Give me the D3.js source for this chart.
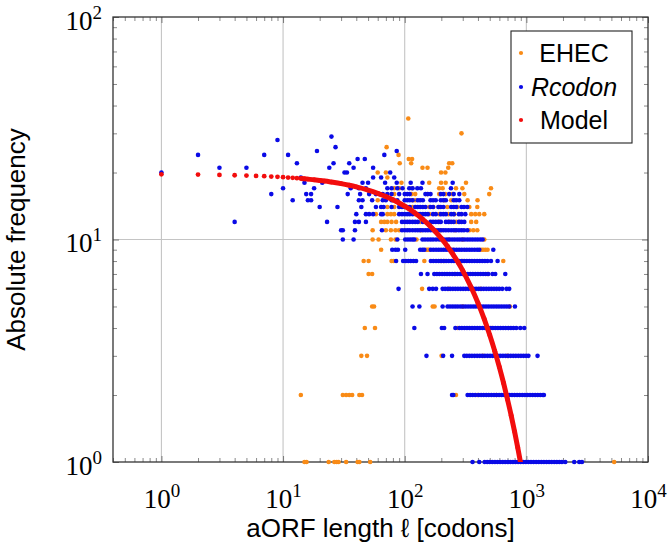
<!DOCTYPE html>
<html><head><meta charset="utf-8">
<script src="https://cdn.jsdelivr.net/npm/d3@7"></script>
<style>body{margin:0;background:#fff}svg{display:block}</style>
</head><body><svg id="c" width="672" height="543"></svg>
<script>
// ---------- data ----------
const seriesNames = ["EHEC", "Rcodon", "Model"];
const xTickValues = [1, 10, 100, 1000, 10000];
const xTickExponents = ["0", "1", "2", "3", "4"];
const yTickValues = [1, 10, 100];
const yTickExponents = ["0", "1", "2"];
const xLabel = "aORF length \u2113 [codons]";
const yLabel = "Absolute frequency";

// [frequency, [aORF lengths]]
const ehecRows = [
  [1, [15, 15.6, 23.7, 26.4, 27.6, 28.6, 33, 41, 42.4, 52, 5272]],
  [2, [14, 31, 33, 35, 37, 42.4, 44.6, 264, 395, 566]],
  [3, [44, 49, 201, 440, 700]],
  [4, [47, 57, 272, 520]],
  [5, [54, 56, 170, 176, 300, 733]],
  [6, [139, 230, 420]],
  [7, [50.5, 54, 260, 480]],
  [8, [46, 50.5, 78, 81, 145, 199, 211, 300, 646]],
  [9, [64, 150, 155, 159, 250, 424, 440, 460, 480]],
  [10, [54.5, 61, 77, 84, 125, 230, 300, 451]],
  [11, [54.5, 70, 77, 84, 90, 136, 200, 260, 340, 366, 395]],
  [12, [64, 68, 72, 78, 85, 134, 192, 232, 265, 281, 352, 387]],
  [13, [58, 72, 77, 82, 122, 159, 192, 229, 256, 352, 380, 410, 451]],
  [14, [72, 82, 116, 159, 172, 192, 224, 271, 340, 395]],
  [15, [60, 80, 116, 122, 211, 241, 329, 397]],
  [16, [82, 114, 122, 153, 192, 216, 246, 309, 495]],
  [17, [82, 90, 115, 192, 205, 264, 298, 512]],
  [18, [94, 159, 199, 217, 319]],
  [19, [72]],
  [20, [60, 70, 199, 216]],
  [21, [140, 154, 228]],
  [22, [91, 113, 232, 246]],
  [23, [108, 115]],
  [24, [89]],
  [26, [71]],
  [30, [293]],
  [35, [107]]
];

const rcodonRows = [
  [1, [361, 410, 454, 477, 500, 525, 552, 579, 608, 639, 670, 704, 739, 776, 815, 856, 899, 944, 991, 1040, 1092, 1147, 1204, 1265, 1328, 1394, 1464, 1537, 1614, 1695, 1780, 1869, 1962, 2089, 2476, 2720, 2864]],
  [2, [245, 251, 329, 345, 362, 380, 405, 425, 446, 468, 491, 516, 542, 569, 597, 627, 658, 691, 726, 762, 800, 840, 882, 926, 972, 1021, 1072, 1126, 1182, 1241, 1303, 1368, 1394]],
  [3, [151, 207, 245, 309, 324, 340, 357, 375, 394, 414, 434, 456, 479, 503, 528, 554, 582, 611, 642, 674, 707, 743, 780, 819, 860, 903, 948, 995, 1040, 1236]],
  [4, [120, 202, 211, 261, 281, 295, 310, 325, 341, 358, 376, 395, 415, 436, 458, 481, 505, 530, 556, 584, 613, 644, 676, 710, 746, 783, 826, 891, 961]],
  [5, [116, 132, 205, 225, 236, 248, 260, 273, 287, 301, 316, 332, 349, 366, 384, 403, 423, 444, 466, 489, 514, 540, 567, 595, 625, 656, 689, 723, 806]],
  [6, [89, 159, 170, 181, 205, 215, 226, 237, 249, 261, 274, 288, 302, 317, 333, 350, 367, 386, 405, 425, 446, 468, 492, 516, 542, 569, 598, 634, 687, 723]],
  [7, [136, 154, 175, 184, 193, 203, 213, 223, 234, 246, 258, 271, 285, 299, 314, 330, 346, 363, 381, 400, 420, 441, 463, 486, 527, 555, 671]],
  [8, [85, 97, 102, 107, 112, 118, 124, 164, 172, 181, 190, 199, 209, 219, 230, 242, 254, 267, 280, 294, 309, 324, 340, 357, 375, 394, 414, 434, 456, 479, 512, 580]],
  [9, [79, 84, 88, 101, 134, 140, 145, 164, 172, 181, 190, 199, 209, 219, 230, 242, 254, 267, 280, 294, 309, 324, 340, 357, 375, 394, 410, 535]],
  [10, [31, 38, 87, 101, 106, 111, 116, 120, 140, 147, 155, 163, 171, 181, 192, 201, 211, 222, 233, 245, 257, 270, 283, 297, 312, 328, 344, 361, 379, 398, 418, 437]],
  [11, [30, 31, 39, 65, 95, 100, 105, 110, 116, 122, 128, 134, 141, 148, 155, 163, 171, 180, 189, 198, 208, 218, 229, 241, 253, 265, 279, 293, 307, 327]],
  [12, [4, 23, 39, 42, 48, 95, 100, 105, 110, 116, 122, 128, 141, 148, 163, 171, 180, 189, 198, 218, 229, 241, 253, 279, 293, 309]],
  [13, [40, 48, 51, 55, 64, 66, 90, 95, 100, 105, 110, 116, 128, 134, 141, 148, 155, 171, 180, 198, 208, 218, 241, 253, 279, 293, 315]],
  [14, [20, 28, 44, 58, 64, 67, 78, 90, 95, 100, 105, 110, 122, 128, 134, 141, 148, 163, 171, 189, 198, 208, 241, 253, 265, 293, 307, 327]],
  [15, [12, 16, 17, 42, 45, 54, 66, 70, 78, 87, 100, 105, 110, 116, 128, 134, 141, 163, 171, 180, 198, 208, 218, 253, 265, 281]],
  [16, [8, 15.5, 17, 34, 43, 51, 58, 62, 66, 72, 78, 90, 100, 105, 110, 148, 155, 163, 198, 208, 232, 253, 281]],
  [17, [10, 18, 36, 42, 48, 72, 78, 87, 96, 109, 116, 127, 136, 240]],
  [18, [15, 21, 45, 50, 69, 86, 112, 140, 248]],
  [19, [14, 55, 64, 82]],
  [20, [1, 32, 33.5, 76]],
  [21, [3, 5, 24, 38, 55]],
  [22, [13, 26, 35]],
  [23, [41, 47]],
  [24, [2, 7, 11, 68]],
  [25, [19, 86]],
  [26, [27]],
  [28, [9]],
  [29, [25]]
];

const modelLength = [1,2,3,4,5,6,7,8,9,10,11,12,13,14,15,16,18,20,22,25,30,35,40,50,60,70,80,90,100,120,140,160,180,200,225,250,275,300,350,400,450,500,550,600,650,700,750,800,850,900,950];
const modelFreq = [19.63,19.57,19.50,19.44,19.37,19.31,19.25,19.18,19.12,19.05,18.99,18.93,18.86,18.80,18.74,18.68,18.55,18.43,18.31,18.12,17.83,17.53,17.24,16.68,16.13,15.60,15.09,14.59,14.12,13.21,12.35,11.56,10.81,10.11,9.31,8.56,7.88,7.25,6.13,5.19,4.40,3.72,3.15,2.67,2.26,1.91,1.62,1.37,1.16,0.98,0.83];

// ---------- drawing ----------
const colors = {EHEC: "#f98b16", Rcodon: "#0a0ae6", Model: "#f20d0d"};
const L = 113, R = 648, T = 17, B = 462;
const svg = d3.select("#c");
const x = d3.scaleLog().domain([0.4, 10000]).range([L, R]);
const y = d3.scaleLog().domain([1, 100]).range([B, T]);

svg.append("defs").append("clipPath").attr("id", "plotclip")
  .append("rect").attr("x", L).attr("y", T).attr("width", R - L).attr("height", B - T);

// grid
const grid = svg.append("g");
grid.selectAll(".gx").data(xTickValues.filter(v => x(v) > L + 1 && x(v) < R - 1)).join("line")
  .attr("x1", d => x(d)).attr("x2", d => x(d)).attr("y1", T).attr("y2", B)
  .attr("stroke", "#c4c4c4").attr("stroke-width", 1.1);
grid.selectAll(".gy").data(yTickValues.filter(v => y(v) < B - 1 && y(v) > T + 1)).join("line")
  .attr("x1", L).attr("x2", R).attr("y1", d => y(d)).attr("y2", d => y(d))
  .attr("stroke", "#c4c4c4").attr("stroke-width", 1.1);

// minor tick values
const xMinor = [];
[0.1, 1, 10, 100, 1000].forEach(d => { for (let k = 2; k <= 9; k++) { const v = k * d; if (v >= 0.4 && v < 10000) xMinor.push(v); } });
const yMinor = [];
[1, 10].forEach(d => { for (let k = 2; k <= 9; k++) yMinor.push(k * d); });

function styleTicks(g, col) {
  g.select(".domain").remove();
  g.selectAll("line").attr("stroke", col).attr("stroke-width", 1);
}
const minorCol = "#8a8a8a", majorCol = "#777";
svg.append("g").attr("transform", `translate(0,${B})`)
  .call(d3.axisBottom(x).tickValues(xMinor).tickSize(-4).tickFormat(() => "")).call(g => styleTicks(g, minorCol));
svg.append("g").attr("transform", `translate(0,${T})`)
  .call(d3.axisTop(x).tickValues(xMinor).tickSize(-4).tickFormat(() => "")).call(g => styleTicks(g, minorCol));
svg.append("g").attr("transform", `translate(${L},0)`)
  .call(d3.axisLeft(y).tickValues(yMinor).tickSize(-4).tickFormat(() => "")).call(g => styleTicks(g, minorCol));
svg.append("g").attr("transform", `translate(${R},0)`)
  .call(d3.axisRight(y).tickValues(yMinor).tickSize(-4).tickFormat(() => "")).call(g => styleTicks(g, minorCol));

// major ticks + labels
const tickFont = "'Liberation Serif', 'Times New Roman', serif";
const xAx = svg.append("g").attr("transform", `translate(0,${B})`)
  .call(d3.axisBottom(x).tickValues(xTickValues).tickSize(-6).tickFormat(() => ""))
  .call(g => styleTicks(g, majorCol));
xAx.selectAll(".tick text").each(function(d, i) {
  const t = d3.select(this).attr("y", 46).attr("dy", null)
    .attr("fill", "#000").attr("font-family", tickFont).attr("font-size", 27).attr("text-anchor", "middle");
  t.text(null);
  t.append("tspan").text("10");
  t.append("tspan").attr("dy", -11).attr("font-size", 19).text(xTickExponents[i]);
});
svg.append("g").attr("transform", `translate(0,${T})`)
  .call(d3.axisTop(x).tickValues(xTickValues).tickSize(-6).tickFormat(() => ""))
  .call(g => styleTicks(g, majorCol));
const yAx = svg.append("g").attr("transform", `translate(${L},0)`)
  .call(d3.axisLeft(y).tickValues(yTickValues).tickSize(-6).tickFormat(() => ""))
  .call(g => styleTicks(g, majorCol));
yAx.selectAll(".tick text").each(function(d, i) {
  const t = d3.select(this).attr("x", -11).attr("y", 12).attr("dy", null)
    .attr("fill", "#000").attr("font-family", tickFont).attr("font-size", 27).attr("text-anchor", "end");
  t.text(null);
  t.append("tspan").text("10");
  t.append("tspan").attr("dy", -11).attr("font-size", 19).text(yTickExponents[i]);
});
svg.append("g").attr("transform", `translate(${R},0)`)
  .call(d3.axisRight(y).tickValues(yTickValues).tickSize(-6).tickFormat(() => ""))
  .call(g => styleTicks(g, majorCol));

// border
svg.append("rect").attr("x", L).attr("y", T).attr("width", R - L).attr("height", B - T)
  .attr("fill", "none").attr("stroke", "#333").attr("stroke-width", 1.3);

// axis labels
const sans = "'Liberation Sans', Arial, Helvetica, sans-serif";
svg.append("text").attr("x", (L + R) / 2).attr("y", 537).attr("text-anchor", "middle")
  .attr("font-family", sans).attr("font-size", 26).text(xLabel);
svg.append("text").attr("transform", `translate(25,${(T + B) / 2}) rotate(-90)`).attr("text-anchor", "middle")
  .attr("font-family", sans).attr("font-size", 26).text(yLabel);

// scatter points
const flat = rows => rows.flatMap(([f, ls]) => ls.map(l => ({l, f})));
const R_DOT = 2.3;
svg.append("g").selectAll("circle").data(flat(ehecRows)).join("circle")
  .attr("cx", d => x(d.l)).attr("cy", d => y(d.f)).attr("r", R_DOT).attr("fill", colors.EHEC);
svg.append("g").selectAll("circle").data(flat(rcodonRows)).join("circle")
  .attr("cx", d => x(d.l)).attr("cy", d => y(d.f)).attr("r", R_DOT).attr("fill", colors.Rcodon);

// model
const model = modelLength.map((l, i) => ({l, f: modelFreq[i]}));
const mg = svg.append("g").attr("clip-path", "url(#plotclip)");
mg.append("path").datum(model.filter(d => d.l >= 14))
  .attr("d", d3.line().x(d => x(d.l)).y(d => y(d.f)).curve(d3.curveMonotoneX))
  .attr("fill", "none").attr("stroke", colors.Model).attr("stroke-width", 5).attr("stroke-linecap", "butt");
mg.selectAll("circle").data(model).join("circle")
  .attr("cx", d => x(d.l)).attr("cy", d => y(d.f)).attr("r", 2.4).attr("fill", colors.Model);

// legend
const lg = svg.append("g");
lg.append("rect").attr("x", 511).attr("y", 31).attr("width", 121).attr("height", 112)
  .attr("fill", "#fff").attr("stroke", "#222").attr("stroke-width", 1.1);
const legendY = [53, 87, 120];
seriesNames.forEach((n, i) => {
  lg.append("circle").attr("cx", 521).attr("cy", legendY[i]).attr("r", 2.1).attr("fill", colors[n]);
  lg.append("text").attr("x", 574).attr("y", legendY[i] + 9).attr("text-anchor", "middle")
    .attr("font-family", sans).attr("font-size", 25)
    .attr("font-style", n === "Rcodon" ? "italic" : "normal").text(n);
});
</script>
</body></html>
